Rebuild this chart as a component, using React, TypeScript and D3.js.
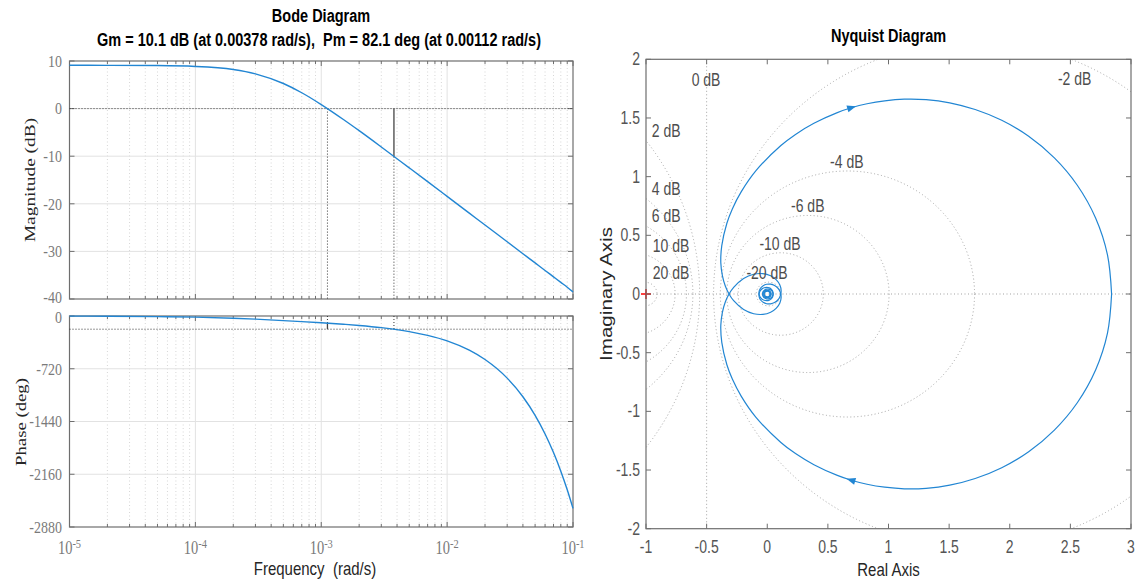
import React, { useRef, useEffect } from 'react';
import * as d3 from 'd3';

const SANS = '"Liberation Sans", Arial, Helvetica, sans-serif';
const SERIF = '"Liberation Serif", "Times New Roman", serif';
// the reference picture is stretched vertically, so its text is taller than wide
const SY = 1.25;

// ---- Bode data ----
const bodeFreq = [1e-5, 2e-5, 5e-5, 1e-4, 2e-4, 3e-4, 5e-4, 7e-4, 1e-3, 1.5e-3, 2e-3, 3e-3, 5e-3, 7e-3,
  1e-2, 1.5e-2, 2e-2, 3e-2, 4e-2, 5e-2, 6e-2, 7e-2, 8e-2, 9e-2, 1e-1];
const magDb = [9.1, 9.09, 9.04, 8.86, 8.22, 7.31, 5.27, 3.33, 0.85, -2.29, -4.64, -8.06, -12.45, -15.35,
  -18.44, -21.96, -24.46, -27.98, -30.48, -32.42, -34.0, -35.34, -36.5, -37.52, -38.5];
const phaseDeg = [-1.6, -3.2, -8.0, -15.9, -30.5, -43.1, -62.6, -76.8, -92.6, -112.6, -129.1, -158.5, -212.7, -265,
  -340, -467, -594, -848, -1102, -1356, -1610, -1864, -2118, -2372, -2626];

const magTicks = [10, 0, -10, -20, -30, -40];
const phaseTicks = [0, -720, -1440, -2160, -2880];
const freqDecades = [1e-5, 1e-4, 1e-3, 1e-2, 1e-1];
const decadeExps = ['-5', '-4', '-3', '-2', '-1'];

const gmDb = 10.1;
const gmFreq = 0.00378;
const pmDeg = 82.1;
const pmFreq = 0.00112;

// ---- Nyquist data (positive frequencies; the plot also shows its mirror image) ----
const nyqRe = [2.84, 2.806, 2.708, 2.557, 2.368, 2.156, 1.934, 1.715, 1.505, 1.31, 1.13, 0.969, 0.823, 0.693,
  0.578, 0.385, 0.233, 0.1125, -0.093, -0.214, -0.288, -0.333, -0.375, -0.383, -0.37, -0.346, -0.314, -0.277,
  -0.195, -0.112, -0.036, 0.028, 0.075, 0.104, 0.1145, 0.108, 0.089, 0.06, 0.027, -0.005, -0.0335, -0.0545,
  -0.066, -0.0676, -0.06, -0.045, -0.0256, -0.004, 0.0165, 0.0329, 0.0442, 0.0485, 0.046, 0.0375, 0.0244,
  0.0088, -0.007, -0.021, -0.0314, -0.0369, -0.0372, -0.0324, -0.0236, -0.0117, 0.001, 0.0131, 0.0226, 0.0289,
  0.0309, 0.0285, 0.0135, -0.0073, -0.0228, -0.0253, -0.0145, 0.0031, 0.0179, 0.0225];
const nyqIm = [0, -0.334, -0.648, -0.927, -1.16, -1.344, -1.48, -1.572, -1.629, -1.656, -1.66, -1.646, -1.621, -1.587,
  -1.546, -1.455, -1.36, -1.265, -1.051, -0.872, -0.725, -0.603, -0.412, -0.267, -0.157, -0.068, 0.002, 0.057,
  0.1325, 0.168, 0.1735, 0.155, 0.12, 0.076, 0.03, -0.0135, -0.049, -0.073, -0.084, -0.083, -0.071, -0.051,
  -0.026, 0.0, 0.0235, 0.042, 0.0534, 0.0567, 0.052, 0.041, 0.0249, 0.0067, -0.0111, -0.0264, -0.0371,
  -0.0421, -0.0412, -0.0347, -0.0238, -0.0105, 0.0037, 0.0166, 0.0266, 0.0326, 0.0338, 0.0303, 0.0231, 0.0127,
  0.0012, -0.01, -0.0257, -0.0268, -0.0141, 0.0051, 0.0202, 0.0239, 0.0149, -0.0013];
const arrowIdx = 13;

const reTicks = [-1, -0.5, 0, 0.5, 1, 1.5, 2, 2.5, 3];
const imTicks = [2, 1.5, 1, 0.5, 0, -0.5, -1, -1.5, -2];

// constant-magnitude circles and their labels
const mCircleDb = [20, 10, 6, 4, 2, -2, -4, -6, -10, -20];
const mLabelText = ['0 dB', '2 dB', '4 dB', '6 dB', '10 dB', '20 dB', '-20 dB', '-10 dB', '-6 dB', '-4 dB', '-2 dB'];
const mLabelRe = [-0.505, -0.834, -0.834, -0.834, -0.793, -0.793, -0.002, 0.105, 0.334, 0.656, 2.535];
const mLabelIm = [1.824, 1.39, 0.895, 0.665, 0.409, 0.179, 0.179, 0.426, 0.75, 1.125, 1.833];

const BLUE = '#2286d3';
const BOX = '#6e6e6e';

const addText = (g, x, y, s, o: any = {}) =>
  g.append('text')
    .attr('transform', `translate(${x},${y}) scale(1,${o.sy || SY})${o.rot ? ' rotate(-90)' : ''}`)
    .attr('text-anchor', o.anchor || 'middle')
    .attr('dy', o.dy || 0)
    .attr('font-family', o.font || SANS)
    .attr('font-size', o.size || 13)
    .attr('font-weight', o.bold ? 'bold' : 'normal')
    .attr('fill', o.fill || '#4d4d4d')
    .style('white-space', 'pre')
    .text(s);

const dotted = (g, x1, y1, x2, y2, color = '#333', dash = '1,2') =>
  g.append('line')
    .attr('x1', x1).attr('y1', y1).attr('x2', x2).attr('y2', y2)
    .attr('stroke', color).attr('stroke-width', 1).attr('stroke-dasharray', dash);

const Charts = () => {
  const svgRef = useRef(null);

  useEffect(() => {
    if (!svgRef.current) return;
    const svg = d3.select(svgRef.current);
    svg.selectAll('*').remove();

    // ================= Bode =================
    const fx = d3.scaleLog().domain([1e-5, 1e-1]).range([69.5, 573]);
    const yMag = d3.scaleLinear().domain([-40, 10]).range([299, 61]);
    const yPh = d3.scaleLinear().domain([-2880, 0]).range([527, 316]);
    const [bx0, bx1] = fx.range();

    const minorFreqs = [];
    freqDecades.slice(0, -1).forEach(d => {
      for (let m = 2; m <= 9; m++) minorFreqs.push(m * d);
    });

    // the two panels sit close, so their touching end labels are nudged apart a little
    const bodePanel = (y, ticks, withLabels, nudge) => {
      const g = svg.append('g');
      const [yb, yt] = y.range();
      // minor grid
      minorFreqs.forEach(f => dotted(g, fx(f), yt, fx(f), yb, '#d6d6d6', '1,2.5'));
      // major grid
      freqDecades.slice(1, -1).forEach(f =>
        g.append('line').attr('x1', fx(f)).attr('x2', fx(f)).attr('y1', yt).attr('y2', yb)
          .attr('stroke', '#e2e2e2'));
      ticks.slice(1, -1).forEach(t =>
        g.append('line').attr('x1', bx0).attr('x2', bx1).attr('y1', y(t)).attr('y2', y(t))
          .attr('stroke', '#e2e2e2'));
      // ticks on all sides
      freqDecades.forEach(f => {
        g.append('line').attr('x1', fx(f)).attr('x2', fx(f)).attr('y1', yb).attr('y2', yb - 5).attr('stroke', BOX);
        g.append('line').attr('x1', fx(f)).attr('x2', fx(f)).attr('y1', yt).attr('y2', yt + 5).attr('stroke', BOX);
      });
      minorFreqs.forEach(f => {
        g.append('line').attr('x1', fx(f)).attr('x2', fx(f)).attr('y1', yb).attr('y2', yb - 3).attr('stroke', BOX);
        g.append('line').attr('x1', fx(f)).attr('x2', fx(f)).attr('y1', yt).attr('y2', yt + 3).attr('stroke', BOX);
      });
      ticks.forEach((t, i) => {
        g.append('line').attr('x1', bx0).attr('x2', bx0 + 5).attr('y1', y(t)).attr('y2', y(t)).attr('stroke', BOX);
        g.append('line').attr('x1', bx1).attr('x2', bx1 - 5).attr('y1', y(t)).attr('y2', y(t)).attr('stroke', BOX);
        const off = nudge && nudge[0] === i ? nudge[1] : 0;
        addText(svg, 62, y(t) + off, String(t),
          { anchor: 'end', dy: '0.35em', font: SERIF, size: 14, sy: 1.2, fill: '#7a7a7a' });
      });
      g.append('rect').attr('x', bx0).attr('y', yt).attr('width', bx1 - bx0).attr('height', yb - yt)
        .attr('fill', 'none').attr('stroke', BOX).attr('stroke-width', 1.2);
      if (withLabels) {
        freqDecades.forEach((f, i) => {
          const t = addText(svg, fx(f), 554, '10', { font: SERIF, size: 14.5, fill: '#7a7a7a' });
          t.append('tspan').attr('dy', '-0.45em').attr('font-size', '0.72em').text(decadeExps[i]);
        });
      }
      return g;
    };

    const gMag = bodePanel(yMag, magTicks, false, [magTicks.length - 1, -1.5]);
    const gPh = bodePanel(yPh, phaseTicks, true, [0, 1.5]);

    // margin markers, magnitude
    dotted(gMag, bx0, yMag(0), bx1, yMag(0));
    dotted(gMag, fx(pmFreq), yMag(0), fx(pmFreq), yMag(-40));
    dotted(gMag, fx(gmFreq), yMag(-gmDb), fx(gmFreq), yMag(-40));
    gMag.append('line').attr('x1', fx(gmFreq)).attr('x2', fx(gmFreq))
      .attr('y1', yMag(0)).attr('y2', yMag(-gmDb)).attr('stroke', '#444').attr('stroke-width', 1.3);

    // margin markers, phase
    dotted(gPh, bx0, yPh(-180), bx1, yPh(-180));
    dotted(gPh, fx(gmFreq), yPh(0), fx(gmFreq), yPh(-180));
    dotted(gPh, fx(pmFreq), yPh(0), fx(pmFreq), yPh(-180 + pmDeg));
    gPh.append('line').attr('x1', fx(pmFreq)).attr('x2', fx(pmFreq))
      .attr('y1', yPh(-180 + pmDeg)).attr('y2', yPh(-180)).attr('stroke', '#444').attr('stroke-width', 1.3);

    const magLine = d3.line<number>().x((_, i) => fx(bodeFreq[i])).y(d => yMag(d)).curve(d3.curveMonotoneX);
    const phLine = d3.line<number>().x((_, i) => fx(bodeFreq[i])).y(d => yPh(d)).curve(d3.curveMonotoneX);
    gMag.append('path').attr('d', magLine(magDb)).attr('fill', 'none').attr('stroke', BLUE).attr('stroke-width', 1.4);
    gPh.append('path').attr('d', phLine(phaseDeg)).attr('fill', 'none').attr('stroke', BLUE).attr('stroke-width', 1.4);

    // Bode titles and labels
    addText(svg, 321, 22, 'Bode Diagram', { bold: true, size: 14.5, fill: '#000' });
    addText(svg, 319, 46,
      `Gm = ${gmDb} dB (at ${gmFreq} rad/s),  Pm = ${pmDeg} deg (at ${pmFreq} rad/s)`,
      { bold: true, size: 14.5, fill: '#000' });
    addText(svg, 30, 180, 'Magnitude (dB)', { rot: true, dy: '0.35em', font: SERIF, size: 15.5, fill: '#262626' });
    addText(svg, 21, 422, 'Phase (deg)', { rot: true, dy: '0.35em', font: SERIF, size: 15, fill: '#262626' });
    addText(svg, 315, 575, 'Frequency  (rad/s)', { size: 15, fill: '#262626' });

    // ================= Nyquist =================
    const nx = d3.scaleLinear().domain([-1, 3]).range([646, 1131]);
    const ny = d3.scaleLinear().domain([-2, 2]).range([528.7, 59.3]);
    const [nx0, nx1] = nx.range();
    const [nyb, nyt] = ny.range();
    const ux = nx(1) - nx(0);
    const uy = ny(0) - ny(1);

    svg.append('clipPath').attr('id', 'nyq-clip')
      .append('rect').attr('x', nx0).attr('y', nyt).attr('width', nx1 - nx0).attr('height', nyb - nyt);
    const gN = svg.append('g').attr('clip-path', 'url(#nyq-clip)');

    mCircleDb.forEach(db => {
      const M = Math.pow(10, db / 20);
      const c = -M * M / (M * M - 1);
      const r = Math.abs(M / (M * M - 1));
      gN.append('ellipse').attr('cx', nx(c)).attr('cy', ny(0)).attr('rx', r * ux).attr('ry', r * uy)
        .attr('fill', 'none').attr('stroke', '#a3a3a3').attr('stroke-dasharray', '1,2.5');
    });
    dotted(gN, nx(-0.5), nyt, nx(-0.5), nyb, '#a3a3a3', '1,2.5');
    dotted(gN, nx0, ny(0), nx1, ny(0), '#a3a3a3', '1,2.5');

    mLabelText.forEach((s, i) =>
      addText(svg, nx(mLabelRe[i]), ny(mLabelIm[i]), s, { dy: '0.35em', size: 14, fill: '#4d4d4d' }));

    const pts = nyqRe.map((r, i) => [r, nyqIm[i]]);
    const mirror = pts.map(([r, im]) => [r, -im]);
    const nLine = d3.line<number[]>().x(d => nx(d[0])).y(d => ny(d[1])).curve(d3.curveCatmullRom.alpha(0.5));
    gN.append('path').attr('d', nLine(pts)).attr('fill', 'none').attr('stroke', BLUE).attr('stroke-width', 1.2);
    gN.append('path').attr('d', nLine(mirror)).attr('fill', 'none').attr('stroke', BLUE).attr('stroke-width', 1.2);

    const arrow = (p, a, b) => {
      const x = nx(p[0]), y = ny(p[1]);
      const dx = nx(b[0]) - nx(a[0]), dy = ny(b[1]) - ny(a[1]);
      const L = Math.hypot(dx, dy);
      const ex = dx / L, ey = dy / L;
      const tip = [x + ex * 5, y + ey * 5];
      const b1 = [x - ex * 4 - ey * 3.5, y - ey * 4 + ex * 3.5];
      const b2 = [x - ex * 4 + ey * 3.5, y - ey * 4 - ex * 3.5];
      svg.append('path').attr('d', `M${tip}L${b1}L${b2}Z`).attr('fill', BLUE);
    };
    arrow(pts[arrowIdx], pts[arrowIdx - 1], pts[arrowIdx + 1]);
    arrow(mirror[arrowIdx], mirror[arrowIdx + 1], mirror[arrowIdx - 1]);

    // critical point
    const cx = nx(-1), cy = ny(0);
    svg.append('path').attr('d', `M${cx - 5},${cy}H${cx + 5}M${cx},${cy - 5}V${cy + 5}`)
      .attr('stroke', '#ff0000').attr('stroke-width', 1.5);

    // box and ticks
    svg.append('rect').attr('x', nx0).attr('y', nyt).attr('width', nx1 - nx0).attr('height', nyb - nyt)
      .attr('fill', 'none').attr('stroke', BOX).attr('stroke-width', 1.2);
    reTicks.forEach(t => {
      svg.append('line').attr('x1', nx(t)).attr('x2', nx(t)).attr('y1', nyb).attr('y2', nyb - 5).attr('stroke', BOX);
      svg.append('line').attr('x1', nx(t)).attr('x2', nx(t)).attr('y1', nyt).attr('y2', nyt + 5).attr('stroke', BOX);
      addText(svg, nx(t), 547, String(t), { dy: '0.35em', size: 14, fill: '#555' });
    });
    imTicks.forEach(t => {
      svg.append('line').attr('x1', nx0).attr('x2', nx0 + 5).attr('y1', ny(t)).attr('y2', ny(t)).attr('stroke', BOX);
      svg.append('line').attr('x1', nx1).attr('x2', nx1 - 5).attr('y1', ny(t)).attr('y2', ny(t)).attr('stroke', BOX);
      addText(svg, 640, ny(t), String(t), { anchor: 'end', dy: '0.35em', size: 14, fill: '#555' });
    });

    addText(svg, (nx0 + nx1) / 2, 42, 'Nyquist Diagram', { bold: true, size: 14.5, fill: '#000' });
    addText(svg, (nx0 + nx1) / 2, 576, 'Real Axis', { size: 15, fill: '#262626' });
    addText(svg, 606, (nyt + nyb) / 2, 'Imaginary Axis', { rot: true, dy: '0.35em', size: 16.5, fill: '#262626' });
  }, []);

  return <svg ref={svgRef} width={1139} height={580} style={{ display: 'block', background: '#fff' }} />;
};

export default function App() {
  return (
    <div style={{ position: 'absolute', left: 0, top: 0, width: 1139, height: 580, background: '#fff' }}>
      <Charts />
    </div>
  );
}
